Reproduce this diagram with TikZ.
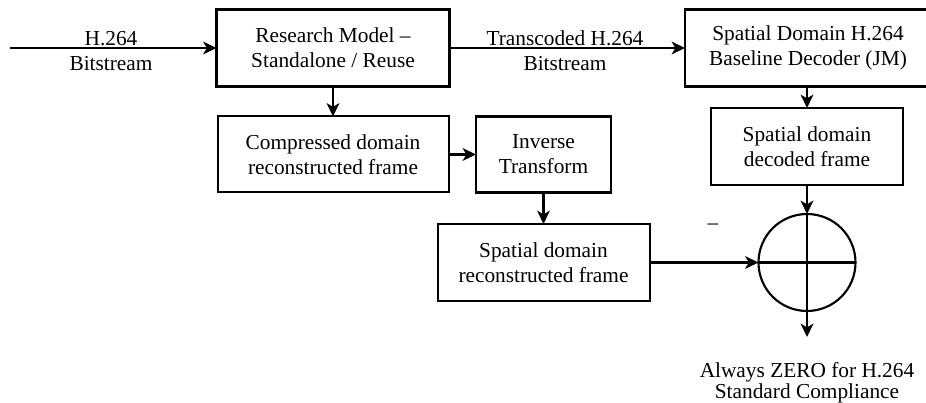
\documentclass[tikz,border=0pt]{standalone}
\usepackage{fontspec}
\setmainfont{Liberation Serif}
\usetikzlibrary{arrows.meta,positioning}

\begin{document}
\begin{tikzpicture}[x=0.75pt,y=-0.75pt,>={Stealth[length=10pt,width=9.5pt,inset=2.8pt]},font=\fontsize{16}{18.75}\selectfont]
\tikzset{blk/.style={draw,line width=1.5pt,align=center,inner sep=0pt,outer sep=0pt},
  thk/.style={blk,line width=2.2pt},
  lbl/.style={align=center,inner sep=0pt},
  flow/.style={->,line width=1.6pt}}
\useasboundingbox (0,0) rectangle (926,403);
\node[thk,minimum width=174.75pt,minimum height=57.75pt] (rm) at (333,48) {Research Model --\\Standalone / Reuse};
\node[blk,minimum width=173.25pt,minimum height=57pt] (cdr) at (333,154.5) {Compressed domain\\reconstructed frame};
\node[thk,minimum width=101.25pt,minimum height=57pt] (inv) at (543.5,154.5) {Inverse\\Transform};
\node[blk,minimum width=159pt,minimum height=57.75pt] (sdr) at (543.5,262.5) {Spatial domain\\reconstructed frame};
\node[thk,minimum width=184.5pt,minimum height=57.75pt] (dec) at (808,48) {Spatial Domain H.264\\Baseline Decoder (JM)};
\node[blk,minimum width=144pt,minimum height=57.75pt] (sdd) at (807,146.5) {Spatial domain\\decoded frame};
\node[circle,draw,line width=1.6pt,minimum size=72.75pt,inner sep=0pt,outer sep=0pt] (sum) at (807,262.5) {};
\coordinate (src) at (10,48);
\coordinate (out) at (807,337);
% labels
\node[lbl] (inlbl) at (111,51) {H.264\\Bitstream};
\node[lbl] (trlbl) at (565,51) {Transcoded H.264\\Bitstream};
\node[lbl] (mns) at (713,227) {--};
\node[lbl,font=\fontsize{16}{15.75}\selectfont] (outlbl) at (807,382.5) {Always ZERO for H.264\\Standard Compliance};
% connectors
\draw[flow] (src) -- (rm.west);
\draw[flow] (rm.east) -- (rm.east -| dec.west);
\draw[flow] (cdr.east) -- (inv.west);
\draw[flow] (sdr.east) -- (sum.west);
\foreach \a/\b in {rm/cdr,inv/sdr,sdd/sum}{\draw[flow] (\a.south) -- (\b.north);}
\draw[flow] (dec.south -| sdd.north) -- (sdd.north);
\draw[line width=1.6pt] (sum.north) -- (sum.south) (sum.west) -- (sum.east);
\draw[flow] (sum.south) -- (out);
\end{tikzpicture}
\end{document}
